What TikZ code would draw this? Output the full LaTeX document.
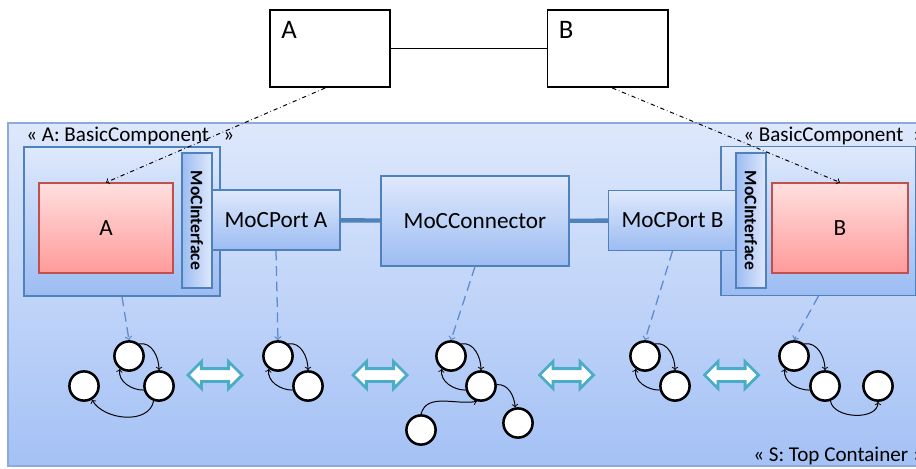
\documentclass[tikz,border=0pt]{standalone}
\usepackage{fontspec}
\setmainfont{Carlito}
\usetikzlibrary{calc,shapes,arrows}

\definecolor{mocblue}{HTML}{4F81BD}
\definecolor{moclight}{HTML}{DFE9FC}
\definecolor{mocdark}{HTML}{9CBCF2}
\definecolor{bgtop}{HTML}{DEE8FC}
\definecolor{bgbot}{HTML}{A4C1F5}
\definecolor{bgline}{HTML}{8EAADB}
\definecolor{redtop}{HTML}{FFDFDF}
\definecolor{redbot}{HTML}{FF9A9A}
\definecolor{redline}{HTML}{C0504D}
\definecolor{arrteal}{HTML}{4BACC6}
\definecolor{dashblue}{HTML}{5B8BD0}

\tikzset{
	umlbox/.style={draw, line width=1.4pt, minimum width=3cm, minimum height=1.925cm},
	toplbl/.style={anchor=north west, inner sep=0.3cm, font=\fontsize{19}{22}\selectfont},
	container/.style={draw=bgline, line width=0.8pt, top color=bgtop, bottom color=bgbot},
	stereo/.style={anchor=west, inner sep=0pt, font=\fontsize{15}{18}\selectfont},
	comp/.style={draw=mocblue, line width=0.8pt, top color=moclight, bottom color=mocdark,
		font=\fontsize{16.5}{20}\selectfont},
	port/.style={comp, minimum width=3.2cm, minimum height=1.5cm},
	iface/.style={draw=mocblue, line width=0.8pt, left color=mocdark, right color=moclight,
		minimum width=0.75cm, minimum height=3.375cm, inner sep=0pt,
		font=\fontsize{12.5}{15}\selectfont\bfseries},
	redbox/.style={draw=redline, line width=0.8pt, top color=redtop, bottom color=redbot,
		minimum width=3.35cm, minimum height=2.25cm, font=\fontsize{16.5}{20}\selectfont},
	mocline/.style={draw=mocblue, line width=0.11cm},
	mapto/.style={->, dash dot, line width=0.7pt},
	realize/.style={->, draw=dashblue, line width=0.9pt, dash pattern=on 7pt off 4pt},
	st/.style={circle, draw, fill=white, line width=1.8pt, minimum size=0.73cm, inner sep=0pt},
	trans/.style={->, line width=0.7pt},
	dblarrow/.style={double arrow, draw=arrteal, fill=white, line width=2pt,
		minimum height=1.35cm, minimum width=0.6cm, inner sep=0.125cm,
		double arrow head extend=0.175cm}
}

\begin{document}
\begin{tikzpicture}[x=0.025cm, y=-0.025cm]
	\useasboundingbox (0, 0) rectangle (916, 468);

	\draw (330, 48.5) node[umlbox] (boxA) {};
	\draw (607.5, 48.5) node[umlbox] (boxB) {};
	\draw (boxA.north west) node[toplbl] (lblA) {A};
	\draw (boxB.north west) node[toplbl] (lblB) {B};
	\draw[line width=0.8pt] (boxA) -- (boxB);

	\draw[container] (8, 123) rectangle (922, 466);
	\draw (26, 136) node[stereo] (stA) {« A: BasicComponent~~~»};
	\draw (743, 136) node[stereo] (stB) {« BasicComponent~~»};
	\draw (753, 456) node[stereo] (stS) {« S: Top Container »};

	\draw (122, 221.5) node[comp, minimum width=4.9cm, minimum height=3.725cm] (compA) {};
	\draw (106, 228) node[redbox] (redA) {A};
	\draw (276, 220) node[port] (portA) {MoCPort A};
	\draw (197, 220.5) node[iface] (ifA) {\rotatebox{-90}{MoCInterface}};

	\draw (475, 221) node[comp, minimum width=4.7cm, minimum height=2.25cm] (conn) {MoCConnector};

	\draw (818.5, 221) node[comp, minimum width=4.875cm, minimum height=3.725cm] (compB) {};
	\draw (672.5, 220.5) node[port] (portB) {MoCPort B};
	\draw (751, 220.5) node[iface] (ifB) {\rotatebox{-90}{MoCInterface}};
	\draw (840, 228) node[redbox, minimum width=3.4cm] (redB) {B};

	\draw[mocline] (portA) -- (conn);
	\draw[mocline] (conn) -- (portB);

	\draw[mapto] ([xshift=-0.12cm]boxA.south) -- (redA.north);
	\draw[mapto] ([xshift=0.12cm]boxB.south) -- (redB.north);

	\draw (129, 356) node[st] (g1a) {};
	\draw (159, 386) node[st] (g1b) {};
	\draw (84, 386) node[st] (g1c) {};
	\draw[trans] (g1a.50) to[out=10, in=90] (g1b.north);
	\draw[trans] (g1b.195) to[out=180, in=-100] (g1a.235);
	\draw[trans] (g1b.250) to[out=-100, in=-60] (g1c.-60);

	\draw (278, 356) node[st] (g2a) {};
	\draw (308, 386) node[st] (g2b) {};
	\draw[trans] (g2a.50) to[out=10, in=90] (g2b.north);
	\draw[trans] (g2b.195) to[out=180, in=-100] (g2a.235);

	\draw (451, 356) node[st] (g3a) {};
	\draw (481, 386) node[st] (g3b) {};
	\draw (518, 423) node[st] (g3c) {};
	\draw (421, 430) node[st] (g3d) {};
	\draw[trans] (g3a.50) to[out=10, in=90] (g3b.north);
	\draw[trans] (g3b.195) to[out=180, in=-100] (g3a.235);
	\draw[trans] (g3b.5) to[out=5, in=95] (g3c.100);
	\draw[trans] (g3d.north) to[out=75, in=190] (g3b.255);

	\draw (645, 356) node[st] (g4a) {};
	\draw (675, 386) node[st] (g4b) {};
	\draw[trans] (g4a.50) to[out=10, in=90] (g4b.north);
	\draw[trans] (g4b.195) to[out=180, in=-100] (g4a.235);

	\draw (794, 356) node[st] (g5a) {};
	\draw (825, 386) node[st] (g5b) {};
	\draw (878, 386) node[st] (g5c) {};
	\draw[trans] (g5a.50) to[out=10, in=90] (g5b.north);
	\draw[trans] (g5b.195) to[out=180, in=-100] (g5a.235);
	\draw[trans] (g5b.-70) to[out=-80, in=-90] (g5c.south);

	\draw[realize] (compA.south) -- (g1a.north);
	\draw[realize] (portA.south) -- (g2a.north);
	\draw[realize] (conn.south) -- (g3a.north);
	\draw[realize] (portB.south) -- (g4a.north);
	\draw[realize] (compB.south) -- (g5a.north);

	\draw (215, 375) node[dblarrow] (eq1) {};
	\draw (380, 375) node[dblarrow] (eq2) {};
	\draw (566.5, 375) node[dblarrow] (eq3) {};
	\draw (731.5, 375) node[dblarrow] (eq4) {};
\end{tikzpicture}
\end{document}
